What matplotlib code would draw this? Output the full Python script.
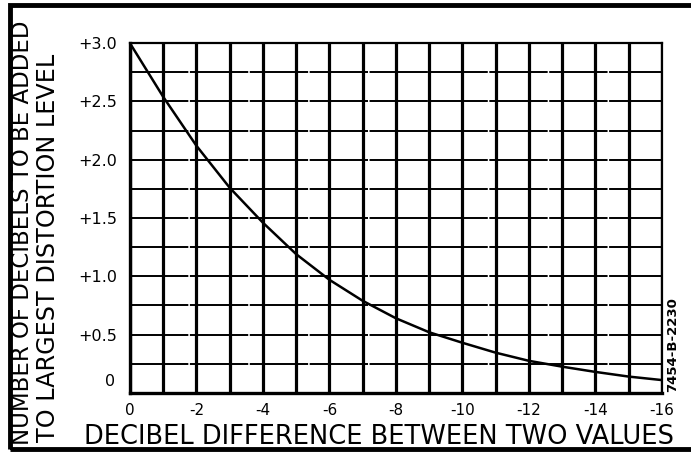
"""
Decibel addition chart: dB to add to the larger of two levels
versus the dB difference between them.
"""

import matplotlib.pyplot as plt
from matplotlib.patches import Rectangle

# ── Data ─────────────────────────────────────────────────────────────────────
db_difference = [0, -1, -2, -3, -4, -5, -6, -7, -8, -9, -10, -11, -12, -13, -14, -15, -16]
db_added = [3.00, 2.54, 2.12, 1.76, 1.46, 1.19, 0.97, 0.79, 0.64, 0.52,
            0.43, 0.345, 0.275, 0.225, 0.18, 0.14, 0.11]

x_ticks = [0, -2, -4, -6, -8, -10, -12, -14, -16]
x_tick_labels = ["0", "-2", "-4", "-6", "-8", "-10", "-12", "-14", "-16"]
y_ticks = [0.5, 1.0, 1.5, 2.0, 2.5, 3.0]
y_tick_labels = ["+0.5", "+1.0", "+1.5", "+2.0", "+2.5", "+3.0"]

plt.rcParams["font.family"] = ["DejaVu Sans"]

fig = plt.figure(figsize=(6.91, 4.59), dpi=100)
ax = fig.add_axes([0.188, 0.144, 0.770, 0.762])

# grid: heavy verticals every 1 dB, lighter, slightly broken horizontals every 0.25 dB
for x in range(0, -17, -1):
    ax.axvline(x, color="black", linewidth=2.3, zorder=1)
for i in range(13):
    ax.axhline(i * 0.25, color="black", linewidth=1.4, linestyle=(0, (30, 0.8)), zorder=1)

ax.plot(db_difference, db_added, color="black", linewidth=1.8, zorder=3)

ax.set_xlim(0, -16)
ax.set_ylim(0, 3.0)
for side in ["left", "bottom"]:
    ax.spines[side].set_linewidth(2.4)
for side in ["top", "right"]:
    ax.spines[side].set_linewidth(1.6)

ax.set_xticks(x_ticks)
ax.set_xticklabels(x_tick_labels, fontsize=11)
ax.set_yticks(y_ticks)
ax.set_yticklabels(y_tick_labels, fontsize=11.5)
ax.tick_params(length=0, pad=7)
ax.tick_params(axis="y", pad=9)
ax.text(0.45, 0.1, "0", fontsize=11.5, ha="right", va="center")

# axis titles, lettered like the drawing
fig.text(0.033, 0.03, "NUMBER OF DECIBELS TO BE ADDED", rotation=90,
         fontsize=16.5, ha="center", va="bottom")
fig.text(0.069, 0.037, "TO LARGEST DISTORTION LEVEL", rotation=90,
         fontsize=17.2, ha="center", va="bottom")
fig.text(0.548, 0.048, "DECIBEL DIFFERENCE BETWEEN TWO VALUES",
         fontsize=18.5, ha="center", va="center")
fig.text(0.974, 0.25, "7454-B-2230", rotation=90, fontsize=9.5,
         fontweight="bold", ha="center", va="center")

# outer drawing border (runs off the right edge, as in the scan)
fig.add_artist(Rectangle((0.015, 0.022), 1.05, 0.968, transform=fig.transFigure,
                         fill=False, edgecolor="black", linewidth=3.5))

plt.savefig("out.png", dpi=100)
print("Saved: out.png")
